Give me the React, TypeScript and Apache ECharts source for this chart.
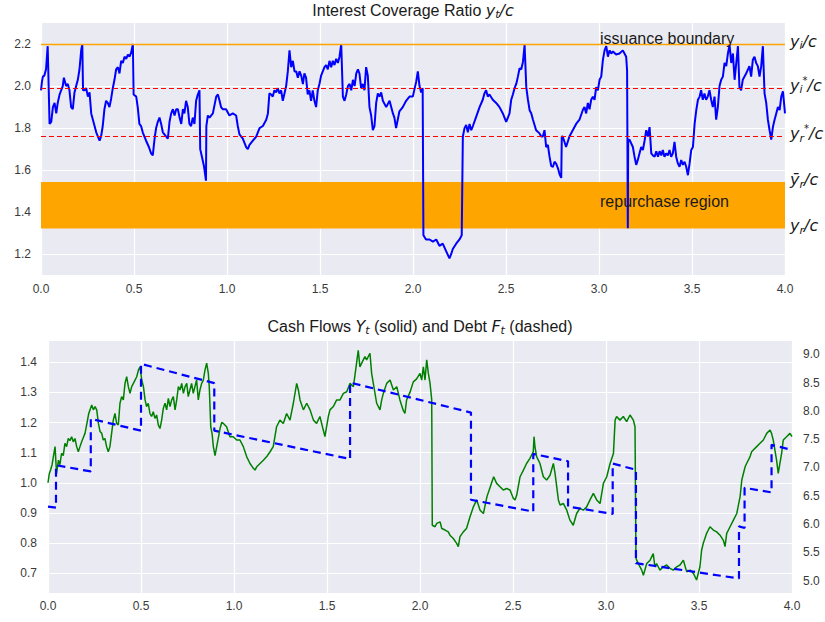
import React, { useEffect, useRef } from 'react';
import * as echarts from 'echarts';

// ---------- Top panel: interest coverage ratio y_t / c ----------
const ratioT = [
  0, 0.005, 0.010, 0.018, 0.027, 0.036, 0.046, 0.055, 0.064, 0.073,
  0.082, 0.090, 0.100, 0.117, 0.123, 0.135, 0.144, 0.153, 0.162, 0.171,
  0.180, 0.189, 0.198, 0.207, 0.216, 0.222, 0.226, 0.234, 0.243, 0.252,
  0.261, 0.270, 0.279, 0.288, 0.297, 0.306, 0.315, 0.323, 0.332, 0.341,
  0.350, 0.359, 0.368, 0.377, 0.386, 0.395, 0.404, 0.413, 0.422, 0.431,
  0.440, 0.449, 0.458, 0.467, 0.476, 0.485, 0.494, 0.498, 0.512, 0.520,
  0.529, 0.538, 0.547, 0.556, 0.565, 0.580, 0.592, 0.601, 0.607, 0.612,
  0.619, 0.628, 0.637, 0.646, 0.655, 0.673, 0.682, 0.691, 0.700, 0.709,
  0.718, 0.727, 0.736, 0.745, 0.754, 0.763, 0.771, 0.780, 0.789, 0.798,
  0.807, 0.816, 0.825, 0.834, 0.843, 0.852, 0.856, 0.866, 0.876, 0.887,
  0.889, 0.897, 0.906, 0.924, 0.942, 0.951, 0.960, 0.968, 0.977, 0.995,
  1.013, 1.031, 1.049, 1.058, 1.067, 1.085, 1.103, 1.112, 1.121, 1.139,
  1.157, 1.175, 1.193, 1.211, 1.220, 1.228, 1.237, 1.246, 1.255, 1.264,
  1.273, 1.282, 1.291, 1.300, 1.309, 1.318, 1.327, 1.336, 1.345, 1.354,
  1.363, 1.372, 1.381, 1.390, 1.399, 1.408, 1.416, 1.425, 1.434, 1.443,
  1.452, 1.461, 1.470, 1.479, 1.488, 1.497, 1.506, 1.515, 1.524, 1.533,
  1.542, 1.551, 1.560, 1.569, 1.578, 1.587, 1.596, 1.605, 1.614, 1.623,
  1.632, 1.641, 1.650, 1.659, 1.668, 1.677, 1.686, 1.695, 1.704, 1.712,
  1.721, 1.730, 1.739, 1.748, 1.757, 1.766, 1.775, 1.784, 1.793, 1.802,
  1.811, 1.820, 1.829, 1.838, 1.856, 1.874, 1.892, 1.900, 1.909, 1.918,
  1.927, 1.945, 1.963, 1.981, 1.999, 2.017, 2.026, 2.035, 2.044, 2.052,
  2.056, 2.070, 2.089, 2.107, 2.125, 2.142, 2.160, 2.178, 2.196, 2.205,
  2.214, 2.232, 2.250, 2.262, 2.268, 2.277, 2.286, 2.295, 2.304, 2.313,
  2.322, 2.340, 2.358, 2.375, 2.384, 2.393, 2.402, 2.411, 2.429, 2.447,
  2.465, 2.483, 2.501, 2.519, 2.528, 2.537, 2.546, 2.555, 2.564, 2.573,
  2.582, 2.591, 2.600, 2.609, 2.618, 2.627, 2.636, 2.645, 2.662, 2.680,
  2.689, 2.698, 2.707, 2.716, 2.725, 2.734, 2.743, 2.752, 2.761, 2.770,
  2.779, 2.788, 2.797, 2.800, 2.805, 2.823, 2.841, 2.859, 2.877, 2.895,
  2.913, 2.922, 2.931, 2.940, 2.949, 2.958, 2.967, 2.976, 2.985, 2.994,
  3.003, 3.012, 3.021, 3.030, 3.039, 3.048, 3.057, 3.066, 3.075, 3.092,
  3.110, 3.128, 3.137, 3.146, 3.151, 3.155, 3.157, 3.164, 3.182, 3.191,
  3.200, 3.209, 3.218, 3.227, 3.236, 3.245, 3.254, 3.263, 3.272, 3.281,
  3.290, 3.299, 3.308, 3.317, 3.326, 3.335, 3.343, 3.352, 3.361, 3.370,
  3.379, 3.388, 3.397, 3.406, 3.415, 3.424, 3.433, 3.442, 3.451, 3.460,
  3.469, 3.478, 3.487, 3.496, 3.505, 3.514, 3.523, 3.532, 3.541, 3.549,
  3.558, 3.567, 3.576, 3.585, 3.594, 3.603, 3.612, 3.621, 3.630, 3.639,
  3.648, 3.657, 3.666, 3.675, 3.684, 3.693, 3.702, 3.711, 3.720, 3.729,
  3.738, 3.747, 3.755, 3.764, 3.773, 3.791, 3.809, 3.818, 3.827, 3.836,
  3.845, 3.854, 3.863, 3.872, 3.881, 3.890, 3.899, 3.908, 3.917, 3.926,
  3.935, 3.944, 3.953, 3.962, 3.971, 3.980, 3.989, 4.000,
];
const ratioY = [
  1.98, 2.02, 2.045, 2.05, 2.08, 2.19, 1.82, 1.83, 1.90, 1.92,
  1.87, 1.92, 1.96, 2.00, 2.04, 2.00, 2.01, 1.98, 1.90, 1.89,
  1.97, 2.00, 2.03, 2.08, 2.17, 2.20, 1.98, 1.98, 1.99, 1.95,
  1.97, 1.87, 1.84, 1.81, 1.78, 1.76, 1.74, 1.76, 1.81, 1.89,
  1.93, 1.92, 1.90, 1.94, 1.99, 2.03, 2.08, 2.09, 2.06, 2.12,
  2.11, 2.14, 2.13, 2.15, 2.14, 2.16, 2.20, 1.96, 1.95, 1.90,
  1.82, 1.81, 1.78, 1.76, 1.74, 1.71, 1.68, 1.67, 1.72, 1.76,
  1.80, 1.83, 1.85, 1.82, 1.78, 1.76, 1.75, 1.83, 1.87, 1.89,
  1.86, 1.89, 1.89, 1.85, 1.82, 1.89, 1.87, 1.93, 1.90, 1.82,
  1.81, 1.85, 1.82, 1.93, 1.96, 1.98, 1.70, 1.66, 1.62, 1.55,
  1.81, 1.86, 1.85, 1.87, 1.95, 1.96, 1.93, 1.90, 1.89, 1.89,
  1.86, 1.87, 1.86, 1.81, 1.77, 1.75, 1.71, 1.70, 1.72, 1.74,
  1.76, 1.80, 1.81, 1.84, 1.87, 1.965, 1.96, 1.95, 1.98, 1.97,
  1.99, 1.965, 1.98, 1.93, 1.965, 2.00, 2.07, 2.17, 2.09, 2.12,
  2.07, 2.07, 2.04, 2.07, 2.05, 2.01, 2.06, 2.04, 1.96, 1.98,
  1.93, 1.98, 1.93, 1.90, 1.98, 2.01, 2.05, 2.07, 2.09, 2.10,
  2.08, 2.12, 2.09, 2.12, 2.10, 2.13, 2.11, 2.14, 2.20, 1.95,
  1.93, 1.96, 2.00, 2.01, 1.98, 2.03, 2.00, 2.06, 2.08, 2.06,
  1.99, 2.01, 1.98, 2.09, 2.05, 1.90, 1.86, 1.79, 1.81, 1.92,
  1.965, 1.95, 1.97, 1.93, 1.90, 1.93, 1.87, 1.85, 1.80, 1.84,
  1.88, 1.90, 1.93, 1.95, 1.95, 2.02, 2.07, 2.00, 1.97, 1.99,
  1.29, 1.27, 1.27, 1.26, 1.27, 1.24, 1.25, 1.215, 1.18, 1.20,
  1.225, 1.25, 1.27, 1.29, 1.76, 1.80, 1.815, 1.78, 1.82, 1.79,
  1.81, 1.855, 1.90, 1.935, 1.965, 1.98, 1.95, 1.96, 1.935, 1.92,
  1.90, 1.87, 1.83, 1.87, 1.935, 1.96, 1.99, 2.01, 2.045, 2.085,
  2.08, 2.115, 2.195, 1.995, 1.935, 1.885, 1.87, 1.84, 1.79, 1.775,
  1.76, 1.76, 1.79, 1.71, 1.72, 1.664, 1.62, 1.615, 1.64, 1.63,
  1.61, 1.58, 1.563, 1.76, 1.76, 1.71, 1.76, 1.79, 1.82, 1.84,
  1.886, 1.90, 1.87, 1.92, 1.89, 1.935, 1.95, 1.935, 1.995, 1.98,
  2.03, 2.045, 2.125, 2.17, 2.19, 2.14, 2.17, 2.155, 2.165, 2.15,
  2.155, 2.17, 2.155, 2.14, 2.075, 1.323, 1.745, 1.745, 1.71, 1.664,
  1.625, 1.65, 1.68, 1.71, 1.696, 1.74, 1.79, 1.76, 1.805, 1.68,
  1.67, 1.664, 1.69, 1.664, 1.69, 1.67, 1.696, 1.664, 1.68, 1.67,
  1.696, 1.664, 1.68, 1.735, 1.664, 1.632, 1.616, 1.648, 1.625, 1.64,
  1.616, 1.576, 1.632, 1.696, 1.71, 1.82, 1.886, 1.935, 1.95, 1.98,
  1.935, 1.965, 1.935, 1.95, 1.98, 1.935, 1.90, 1.95, 1.84, 1.90,
  2.00, 2.03, 2.045, 2.11, 2.095, 2.155, 2.195, 2.11, 2.155, 2.03,
  2.11, 2.19, 1.995, 1.98, 2.03, 2.06, 2.095, 2.045, 2.125, 2.14,
  2.11, 2.095, 2.045, 2.095, 2.19, 1.965, 1.92, 1.84, 1.79, 1.745,
  1.805, 1.84, 1.87, 1.90, 1.886, 1.95, 1.975, 1.87,
];

// boundaries (ratio units)
const issuanceBoundary = 2.2;
const issuanceTarget = 1.986;
const repurchaseTarget = 1.761;
const repurchaseUpper = 1.544;
const repurchaseLower = 1.322;

// annotations: [t, value, text]
const issuanceNote: [number, number, string] = [3.0, 2.2, 'issuance boundary'];
const repurchaseNote: [number, number, string] = [3.0, 1.433, 'repurchase region'];

// ---------- Bottom panel: cash flows Y_t (left) and debt F_t (right) ----------
const cashT = [
  0, 0.007, 0.015, 0.022, 0.029, 0.038, 0.046, 0.056, 0.064, 0.073,
  0.082, 0.091, 0.100, 0.109, 0.118, 0.127, 0.136, 0.145, 0.154, 0.163,
  0.172, 0.181, 0.190, 0.199, 0.211, 0.219, 0.226, 0.235, 0.244, 0.253,
  0.262, 0.271, 0.280, 0.289, 0.297, 0.306, 0.315, 0.324, 0.333, 0.342,
  0.351, 0.360, 0.369, 0.378, 0.387, 0.396, 0.405, 0.414, 0.423, 0.432,
  0.441, 0.450, 0.459, 0.468, 0.477, 0.486, 0.495, 0.504, 0.513, 0.522,
  0.530, 0.539, 0.548, 0.557, 0.566, 0.575, 0.584, 0.593, 0.602, 0.611,
  0.620, 0.629, 0.638, 0.647, 0.656, 0.665, 0.674, 0.683, 0.692, 0.701,
  0.710, 0.719, 0.728, 0.737, 0.746, 0.754, 0.763, 0.772, 0.781, 0.790,
  0.799, 0.808, 0.817, 0.826, 0.835, 0.844, 0.853, 0.862, 0.867, 0.875,
  0.882, 0.889, 0.898, 0.907, 0.916, 0.925, 0.934, 0.943, 0.960, 0.978,
  0.996, 1.014, 1.032, 1.050, 1.068, 1.086, 1.104, 1.113, 1.122, 1.140,
  1.158, 1.176, 1.194, 1.211, 1.229, 1.247, 1.265, 1.283, 1.301, 1.319,
  1.337, 1.346, 1.355, 1.373, 1.391, 1.409, 1.427, 1.444, 1.462, 1.480,
  1.489, 1.507, 1.516, 1.534, 1.552, 1.570, 1.588, 1.606, 1.624, 1.642,
  1.659, 1.668, 1.677, 1.695, 1.704, 1.713, 1.731, 1.740, 1.749, 1.767,
  1.785, 1.794, 1.803, 1.821, 1.839, 1.857, 1.875, 1.892, 1.910, 1.919,
  1.928, 1.946, 1.964, 1.982, 2.000, 2.009, 2.018, 2.027, 2.036, 2.045,
  2.054, 2.063, 2.066, 2.081, 2.090, 2.108, 2.117, 2.135, 2.152, 2.161,
  2.179, 2.197, 2.206, 2.215, 2.233, 2.250, 2.269, 2.287, 2.305, 2.323,
  2.341, 2.360, 2.378, 2.396, 2.412, 2.430, 2.448, 2.466, 2.484, 2.502,
  2.511, 2.520, 2.538, 2.556, 2.573, 2.591, 2.609, 2.613, 2.618, 2.627,
  2.645, 2.663, 2.681, 2.699, 2.717, 2.726, 2.735, 2.744, 2.753, 2.771,
  2.789, 2.806, 2.824, 2.842, 2.860, 2.878, 2.896, 2.914, 2.932, 2.950,
  2.968, 2.986, 3.004, 3.022, 3.040, 3.049, 3.057, 3.075, 3.093, 3.111,
  3.129, 3.147, 3.156, 3.161, 3.165, 3.183, 3.192, 3.201, 3.219, 3.237,
  3.254, 3.263, 3.272, 3.290, 3.308, 3.326, 3.344, 3.362, 3.380, 3.398,
  3.416, 3.434, 3.452, 3.470, 3.487, 3.505, 3.514, 3.523, 3.541, 3.559,
  3.577, 3.595, 3.613, 3.631, 3.640, 3.649, 3.667, 3.685, 3.703, 3.721,
  3.730, 3.748, 3.756, 3.774, 3.783, 3.792, 3.810, 3.828, 3.846, 3.864,
  3.882, 3.890, 3.899, 3.917, 3.926, 3.935, 3.944, 3.953, 3.971, 3.989,
  4.000,
];
const cashY = [
  1.00, 1.03, 1.045, 1.06, 1.087, 1.12, 1.03, 1.075, 1.06, 1.098,
  1.09, 1.131, 1.12, 1.147, 1.14, 1.153, 1.136, 1.147, 1.12, 1.103,
  1.12, 1.136, 1.15, 1.164, 1.203, 1.23, 1.242, 1.258, 1.242, 1.253,
  1.242, 1.197, 1.17, 1.164, 1.142, 1.147, 1.12, 1.103, 1.12, 1.164,
  1.208, 1.23, 1.197, 1.192, 1.264, 1.286, 1.275, 1.33, 1.352, 1.319,
  1.297, 1.319, 1.33, 1.341, 1.352, 1.374, 1.385, 1.341, 1.319, 1.275,
  1.253, 1.264, 1.23, 1.22, 1.236, 1.214, 1.225, 1.192, 1.18, 1.208,
  1.247, 1.264, 1.242, 1.28, 1.253, 1.275, 1.286, 1.242, 1.275, 1.319,
  1.308, 1.33, 1.297, 1.319, 1.33, 1.286, 1.308, 1.33, 1.297, 1.319,
  1.341, 1.275, 1.308, 1.33, 1.341, 1.374, 1.397, 1.363, 1.319, 1.186,
  1.164, 1.12, 1.09, 1.12, 1.15, 1.18, 1.20, 1.197, 1.186, 1.153,
  1.153, 1.142, 1.142, 1.12, 1.087, 1.064, 1.048, 1.042, 1.053, 1.064,
  1.075, 1.087, 1.103, 1.12, 1.186, 1.208, 1.197, 1.23, 1.208, 1.264,
  1.33, 1.308, 1.275, 1.242, 1.264, 1.242, 1.208, 1.197, 1.22, 1.175,
  1.153, 1.22, 1.242, 1.253, 1.275, 1.275, 1.297, 1.302, 1.33, 1.319,
  1.397, 1.44, 1.385, 1.408, 1.419, 1.408, 1.43, 1.363, 1.33, 1.264,
  1.242, 1.275, 1.297, 1.33, 1.341, 1.308, 1.319, 1.275, 1.24, 1.23,
  1.275, 1.30, 1.335, 1.345, 1.363, 1.341, 1.385, 1.341, 1.408, 1.363,
  1.33, 1.275, 0.859, 0.854, 0.865, 0.87, 0.848, 0.843, 0.837, 0.826,
  0.815, 0.799, 0.788, 0.821, 0.837, 0.848, 0.887, 0.92, 0.943, 0.909,
  0.898, 0.954, 0.987, 1.02, 0.998, 0.987, 0.976, 0.981, 0.976, 0.948,
  0.943, 0.959, 1.02, 1.042, 1.064, 1.081, 1.103, 1.153, 1.12, 1.087,
  1.064, 1.02, 1.009, 1.025, 1.064, 1.031, 0.987, 0.943, 0.926, 0.931,
  0.909, 0.876, 0.859, 0.898, 0.915, 0.909, 0.92, 0.943, 0.965, 0.943,
  0.931, 0.998, 1.02, 1.064, 1.097, 1.208, 1.22, 1.208, 1.22, 1.203,
  1.225, 1.208, 1.186, 0.75, 0.743, 0.721, 0.71, 0.693, 0.732, 0.743,
  0.765, 0.721, 0.732, 0.71, 0.721, 0.727, 0.716, 0.71, 0.721, 0.727,
  0.743, 0.704, 0.71, 0.699, 0.677, 0.721, 0.776, 0.799, 0.832, 0.854,
  0.843, 0.837, 0.826, 0.809, 0.788, 0.832, 0.854, 0.876, 0.898, 0.954,
  1.009, 1.053, 1.064, 1.086, 1.103, 1.109, 1.12, 1.131, 1.142, 1.164,
  1.175, 1.164, 1.142, 1.075, 1.031, 1.064, 1.097, 1.142, 1.153, 1.164,
  1.153,
];
const debtT = [
  0, 0.043, 0.043, 0.230, 0.230, 0.500, 0.500, 0.894, 0.894, 1.624,
  1.624, 2.274, 2.274, 2.609, 2.609, 2.796, 2.796, 3.036, 3.036, 3.161,
  3.161, 3.715, 3.715, 3.745, 3.745, 3.890, 3.890, 4.000,
];
const debtF = [
  6.31, 6.29, 7.04, 6.93, 7.86, 7.65, 8.83, 8.49, 7.65, 7.15,
  8.50, 7.97, 6.43, 6.22, 7.24, 7.11, 6.31, 6.18, 7.07, 6.96,
  5.31, 5.04, 5.96, 5.93, 6.64, 6.56, 7.40, 7.31,
];

const zip = (xs: number[], ys: number[]) => {
  const n = Math.min(xs.length, ys.length);
  const out: number[][] = [];
  for (let i = 0; i < n; i++) out.push([xs[i], ys[i]]);
  return out;
};

const FONT = '"Liberation Sans", Arial, sans-serif';
const MATH = '"DejaVu Sans", sans-serif';
const TXT = '#1a1a1a';
const TICK = '#3a3a3a';
const BG = '#eaeaf2';

const rich = {
  t: { fontFamily: FONT, fontSize: 16, color: TXT, lineHeight: 20 },
  m: { fontFamily: MATH, fontStyle: 'italic', fontSize: 16, color: TXT, lineHeight: 20 },
  sb: { fontFamily: MATH, fontStyle: 'italic', fontSize: 11, color: TXT, lineHeight: 11, verticalAlign: 'bottom' },
  sp: { fontFamily: MATH, fontStyle: 'italic', fontSize: 10, color: TXT, lineHeight: 10, verticalAlign: 'top' },
};

const fmt1 = (v: number) => v.toFixed(1);

const xAxisBase = (gridIndex: number, margin: number) => ({
  type: 'value',
  gridIndex,
  min: 0,
  max: 4,
  interval: 0.5,
  axisLine: { show: false },
  axisTick: { show: false },
  axisLabel: { formatter: fmt1, color: TICK, fontFamily: FONT, fontSize: 12, margin },
  splitLine: { show: true, lineStyle: { color: '#ffffff', width: 1.2 } },
});

const yAxisBase = (gridIndex: number, min: number, max: number, splitNumber: number, margin: number, grid: boolean, position: string) => ({
  type: 'value',
  gridIndex,
  position,
  min,
  max,
  splitNumber,
  axisLine: { show: false },
  axisTick: { show: false },
  axisLabel: { formatter: fmt1, color: TICK, fontFamily: FONT, fontSize: 12, margin, showMinLabel: false, showMaxLabel: false },
  splitLine: { show: grid, lineStyle: { color: '#ffffff', width: 1.2 } },
});

const hLine = (y: number, color: string, type: any, width: number, label: string) => ({
  yAxis: y,
  lineStyle: { color, type, width },
  label: { formatter: () => label, color: TXT, opacity: 1, offset: [0, -3] },
});

const option: any = {
  animation: false,
  backgroundColor: '#ffffff',
  title: [
    {
      text: '{t|Interest Coverage Ratio }{m|y}{sb|t}{m|/c}',
      left: 413,
      top: 0,
      textAlign: 'center',
      padding: 0,
      textStyle: { fontFamily: FONT, fontSize: 16, fontWeight: 'normal', color: TXT, rich },
    },
    {
      text: '{t|Cash Flows }{m|Y}{sb|t}{t| (solid) and Debt }{m|F}{sb|t}{t| (dashed)}',
      left: 420,
      top: 316,
      textAlign: 'center',
      padding: 0,
      textStyle: { fontFamily: FONT, fontSize: 16, fontWeight: 'normal', color: TXT, rich },
    },
  ],
  grid: [
    { left: 41, right: 40, top: 22, bottom: 347, show: true, backgroundColor: BG, borderWidth: 0 },
    { left: 48, right: 33, top: 340, bottom: 29, show: true, backgroundColor: BG, borderWidth: 0 },
  ],
  xAxis: [xAxisBase(0, 8), xAxisBase(1, 7)],
  yAxis: [
    yAxisBase(0, 1.101, 2.305, 6, 10, true, 'left'),
    yAxisBase(1, 0.634, 1.474, 8, 11, true, 'left'),
    yAxisBase(1, 4.783, 9.252, 9, 11, false, 'right'),
  ],
  series: [
    {
      name: 'band',
      type: 'line',
      xAxisIndex: 0,
      yAxisIndex: 0,
      data: [],
      z: 1,
      silent: true,
      markArea: {
        silent: true,
        itemStyle: { color: '#ffa500', opacity: 1 },
        data: [[{ yAxis: repurchaseLower }, { yAxis: repurchaseUpper }]],
      },
    },
    {
      name: 'ratio',
      type: 'line',
      xAxisIndex: 0,
      yAxisIndex: 0,
      data: zip(ratioT, ratioY),
      showSymbol: false,
      symbol: 'none',
      z: 3,
      lineStyle: { color: '#0000ff', width: 2 },
      silent: true,
    },
    {
      name: 'levels',
      type: 'line',
      xAxisIndex: 0,
      yAxisIndex: 0,
      data: [],
      z: 4,
      silent: true,
      markLine: {
        silent: true,
        symbol: ['none', 'none'],
        label: { show: true, position: 'end', distance: 5, color: TXT, rich },
        data: [
          hLine(issuanceBoundary, '#ffa500', 'solid', 1.3, '{m|y}{sb|i}{m|/c}'),
          hLine(issuanceTarget, '#ff0000', [5, 3], 1.2, '{m|y}{sb|i}{sp|*}{m|/c}'),
          hLine(repurchaseTarget, '#ff0000', [5, 3], 1.2, '{m|y}{sb|r}{sp|*}{m|/c}'),
          hLine(repurchaseUpper, 'rgba(0,0,0,0)', 'solid', 1, '{m|ȳ}{sb|r}{m|/c}'),
          hLine(repurchaseLower, 'rgba(0,0,0,0)', 'solid', 1, '{m|y}{sb|r}{m|/c}'),
        ],
      },
    },
    {
      name: 'notes',
      type: 'scatter',
      xAxisIndex: 0,
      yAxisIndex: 0,
      symbolSize: 0,
      z: 5,
      silent: true,
      itemStyle: { opacity: 1 },
      data: [
        { value: issuanceNote, label: { offset: [1, -6] } },
        { value: repurchaseNote, label: { offset: [1, -4] } },
      ],
      label: {
        show: true,
        position: 'right',
        distance: 0,
        formatter: (p: any) => p.value[2],
        color: TXT,
        opacity: 1,
        fontFamily: FONT,
        fontSize: 16,
      },
    },
    {
      name: 'cash',
      type: 'line',
      xAxisIndex: 1,
      yAxisIndex: 1,
      data: zip(cashT, cashY),
      showSymbol: false,
      symbol: 'none',
      z: 2,
      lineStyle: { color: '#008000', width: 1.5 },
      silent: true,
    },
    {
      name: 'debt',
      type: 'line',
      xAxisIndex: 1,
      yAxisIndex: 2,
      data: zip(debtT, debtF),
      showSymbol: false,
      symbol: 'none',
      z: 3,
      lineStyle: { color: '#0000ff', width: 2.2, type: [8, 5] },
      silent: true,
    },
  ],
};

export default function App() {
  const ref = useRef<HTMLDivElement>(null);
  useEffect(() => {
    if (!ref.current) return;
    const chart = echarts.init(ref.current, undefined, { renderer: 'svg' });
    chart.setOption(option);
    return () => chart.dispose();
  }, []);
  return (
    <div
      ref={ref}
      style={{ position: 'fixed', left: 0, top: 0, width: 825, height: 622, background: '#ffffff' }}
    />
  );
}
